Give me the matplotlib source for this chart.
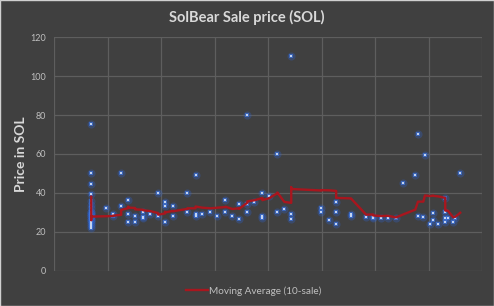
import matplotlib
matplotlib.use("Agg")
import matplotlib.pyplot as plt
from matplotlib.lines import Line2D
from matplotlib.patches import Rectangle
import numpy as np
import pandas as pd

plt.rcParams['font.family'] = ['Lato', 'DejaVu Sans']

# ---- data (x = position along the sale timeline, y = price in SOL) ----
sale_x = [
    0.69, 0.69, 0.69, 0.69, 0.69, 0.69, 0.69, 0.69, 0.69, 0.69,
    0.69, 0.69, 0.69, 0.69, 0.69, 0.69, 0.69, 0.69, 0.69, 0.69,
    0.97, 1.10, 1.10, 1.25, 1.25, 1.38, 1.38, 1.38, 1.51, 1.51,
    1.66, 1.66, 1.66, 1.79, 1.94, 1.94, 2.07, 2.07, 2.07, 2.22,
    2.22, 2.49, 2.49, 2.64, 2.64, 2.64, 2.77, 2.92, 3.05, 3.20,
    3.20, 3.33, 3.46, 3.46, 3.61, 3.61, 3.61, 3.74, 3.89, 3.89,
    3.89, 4.02, 4.17, 4.17, 4.30, 4.43, 4.43, 4.43, 4.99, 4.99,
    5.14, 5.27, 5.27, 5.27, 5.55, 5.55, 5.83, 5.96, 5.96, 6.11,
    6.24, 6.39, 6.52, 6.75, 6.80, 6.80, 6.90, 6.93, 7.03, 7.08,
    7.08, 7.18, 7.31, 7.31, 7.31, 7.31, 7.36, 7.46, 7.50, 7.59,
]
sale_price = [
    75.3, 50.1, 44.4, 39.3, 36.0, 34.0, 28.0, 26.0, 24.0, 23.0,
    30.0, 28.0, 26.0, 29.0, 25.0, 27.0, 22.0, 29.0, 30.0, 32.0,
    32.1, 29.0, 28.0, 33.1, 50.1, 36.2, 29.0, 24.9, 28.0, 24.9,
    30.0, 27.5, 27.0, 29.0, 39.8, 28.0, 35.2, 33.1, 24.9, 33.1,
    28.0, 39.8, 30.0, 29.0, 49.0, 28.0, 29.0, 30.0, 28.0, 36.2,
    30.0, 28.0, 34.1, 26.4, 80.0, 34.1, 30.0, 35.2, 39.8, 28.0,
    27.0, 38.3, 59.8, 30.0, 31.6, 29.0, 110.2, 26.4, 32.1, 30.0,
    25.9, 35.2, 30.0, 23.9, 29.0, 28.0, 27.5, 27.5, 27.0, 27.0,
    27.0, 27.0, 44.9, 49.0, 70.1, 28.0, 27.5, 59.3, 23.9, 29.5,
    25.9, 23.9, 37.2, 30.0, 27.0, 24.9, 27.0, 24.9, 27.0, 50.1,
]
ma_window = 10
y_ticks = [0, 20, 40, 60, 80, 100, 120]

df = pd.DataFrame({"x": sale_x, "price": sale_price})
df["ma"] = df["price"].rolling(ma_window).mean()
ma_df = df.dropna()

BG = "#404040"
RED = "#a8161e"
fig = plt.figure(figsize=(4.94, 3.06), dpi=100, facecolor=BG)
ax = fig.add_axes([0.110, 0.1154, 0.866, 0.7627], facecolor=BG)

ax.set_xlim(0, 8)
ax.set_ylim(0, 120)
ax.set_xticks(np.arange(0, 9, 1))
ax.set_yticks(y_ticks)
ax.set_xticklabels([])
ax.grid(True, color="#5e5e5e", linewidth=0.9)
ax.set_axisbelow(True)
for s in ax.spines.values():
    s.set_visible(False)
ax.tick_params(axis="both", length=0)
ax.tick_params(axis="y", colors="#bfbfbf", labelsize=6.5, pad=6)

# points with a soft blue glow
ax.scatter(df["x"], df["price"], marker="o", s=34, color="#2f63d0", alpha=0.3,
           linewidths=0, zorder=3)
ax.scatter(df["x"], df["price"], marker="s", s=12, color="#3f74db", alpha=0.7,
           linewidths=0, zorder=3)
ax.scatter(df["x"], df["price"], marker="s", s=4, color="#c3d4f2",
           linewidths=0, zorder=4)

ax.plot(ma_df["x"], ma_df["ma"], color=RED, linewidth=1.7, zorder=5)

fig.text(0.5, 0.944, "SolBear Sale price (SOL)", ha="center", va="center",
         color="#d9d9d9", fontsize=10.5, fontweight="bold")
fig.text(0.042, 0.497, "Price in SOL", ha="center", va="center", rotation=90,
         color="#d9d9d9", fontsize=10, fontweight="bold")

handle = Line2D([], [], color=RED, linewidth=1.7)
fig.legend([handle], ["Moving Average (10-sale)"], loc="center",
           bbox_to_anchor=(0.513, 0.049), frameon=False, fontsize=7.2,
           labelcolor="#bfbfbf", handlelength=2.2, handletextpad=0.1)

fig.patches.append(Rectangle((0, 0), 1, 1, transform=fig.transFigure,
                             fill=False, edgecolor="#d0d0d0", linewidth=1))

fig.savefig("out.png", dpi=100, facecolor=BG)
